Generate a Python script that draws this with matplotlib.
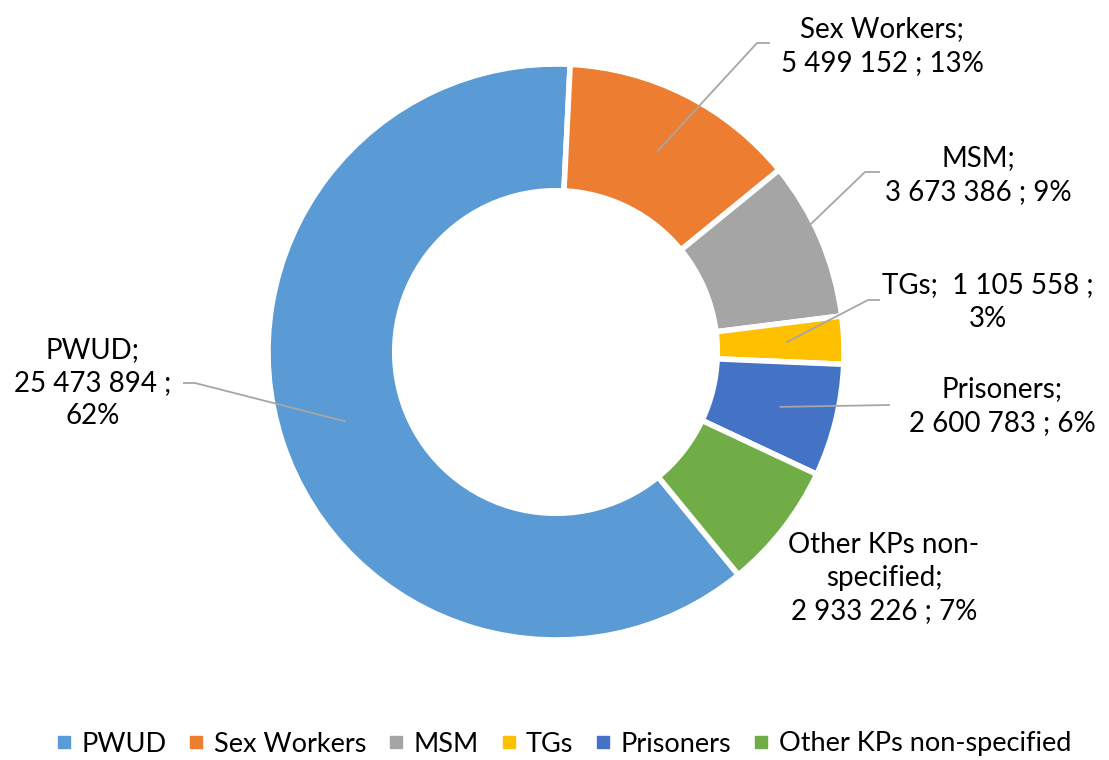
import matplotlib
matplotlib.use("Agg")
import matplotlib.pyplot as plt
import numpy as np
from matplotlib.lines import Line2D

# data
groups = ["PWUD", "Sex Workers", "MSM", "TGs", "Prisoners", "Other KPs non-specified"]
counts = [25473894, 5499152, 3673386, 1105558, 2600783, 2933226]
colors = ["#5B9BD5", "#ED7D31", "#A5A5A5", "#FFC000", "#4472C4", "#70AD47"]
label_texts = [
    "PWUD;\n25 473 894 ;\n62%",
    "Sex Workers;\n5 499 152 ; 13%",
    "MSM;\n3 673 386 ; 9%",
    "TGs;  1 105 558 ;\n3%",
    "Prisoners;\n2 600 783 ; 6%",
    "Other KPs non-\nspecified;\n2 933 226 ; 7%",
]

plt.rcParams["font.family"] = ["Lato", "DejaVu Sans"]

W, H = 1109, 760
fig = plt.figure(figsize=(W / 100, H / 100), dpi=100)
ax = fig.add_axes([0, 0, 1, 1])

cx, cy, R = 556, H - 352, 288
ring = 0.44
start = 90 - 140.7  # first slice angle (clockwise from top)
wedges, _ = ax.pie(counts, colors=colors, startangle=start, counterclock=False,
                   center=(cx, cy), radius=R, frame=True,
                   wedgeprops=dict(width=R * ring, edgecolor="white", linewidth=4))
ax.set_xlim(0, W)
ax.set_ylim(0, H)
ax.set_aspect("equal")
ax.axis("off")

# label layout: text position, elbow, end of leader (pixel coords from top)
layout = [
    dict(txt=(93, 383), elbow=(195, 383), end=(183, 383)),
    dict(txt=(882, 46), elbow=(757, 43), end=(770, 43)),
    dict(txt=(978, 175), elbow=(865, 172), end=(880, 172)),
    dict(txt=(988, 302), elbow=(868, 300), end=(880, 300)),
    dict(txt=(1002, 406), elbow=(890, 405), end=(890, 405)),
    dict(txt=(884, 578), elbow=None, end=None),
]
anchor_r = [0.77, 0.78, 0.83, 0.80, 0.80, 0.78]

for w, lab, lay, ar in zip(wedges, label_texts, layout, anchor_r):
    tx, ty = lay["txt"]
    ax.text(tx, H - ty, lab, ha="center", va="center", fontsize=20,
            linespacing=1.35, color="black")
    if lay["elbow"] is None:
        continue
    mid = np.deg2rad((w.theta1 + w.theta2) / 2)
    px = cx + R * ar * np.cos(mid)
    py = cy + R * ar * np.sin(mid)
    ex, ey = lay["elbow"]
    fx, fy = lay["end"]
    ax.plot([px, ex, fx], [py, H - ey, H - fy], color="#A6A6A6", lw=1.3,
            solid_capstyle="butt")

handles = [Line2D([], [], marker="s", linestyle="none", markersize=8,
                  markerfacecolor=c, markeredgecolor=c) for c in colors]
fig.legend(handles, groups, loc="center", bbox_to_anchor=(0.508, 1 - 744 / H),
           ncol=6, frameon=False, fontsize=19.5, handlelength=0.6,
           handletextpad=0.35, columnspacing=0.8)

fig.savefig("out.png", dpi=100)
plt.close(fig)
